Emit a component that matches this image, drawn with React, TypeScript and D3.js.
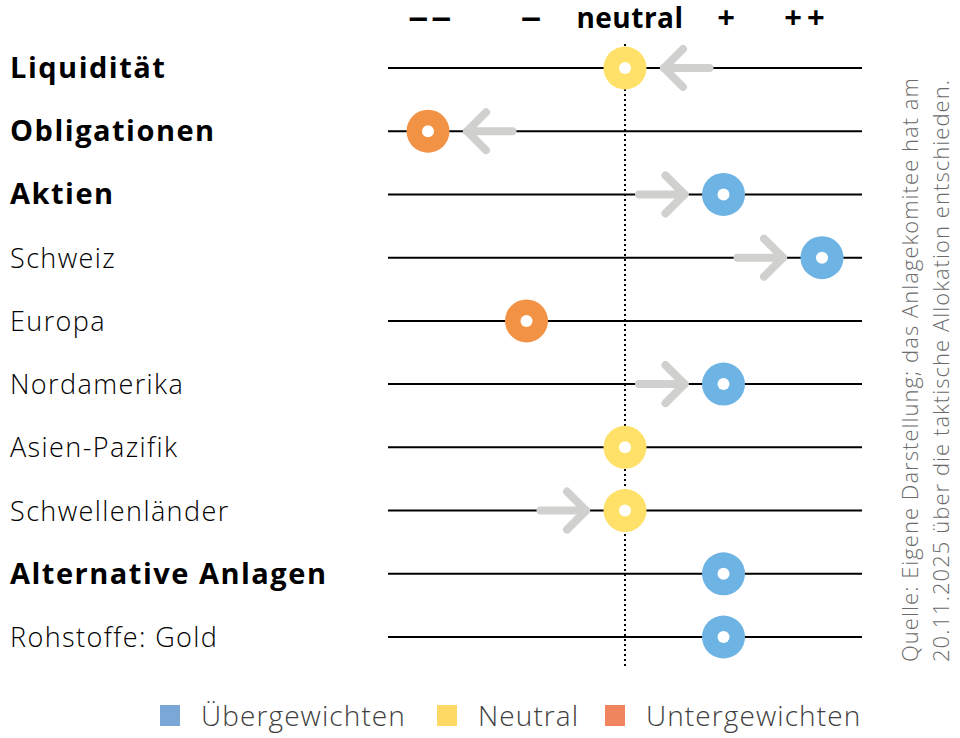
import React from "react";
import * as d3 from "d3";

const categories = [
  "Liquidität",
  "Obligationen",
  "Aktien",
  "Schweiz",
  "Europa",
  "Nordamerika",
  "Asien-Pazifik",
  "Schwellenländer",
  "Alternative Anlagen",
  "Rohstoffe: Gold",
];
const boldRows = [true, true, true, false, false, false, false, false, true, false];
const currentValues = [0, -2, 1, 2, -1, 1, 0, 0, 1, 1];
const previousValues: (number | null)[] = [1, -1, 0, 1, null, 0, null, -1, null, null];
const tickValues = [-2, -1, 0, 1, 2];
const tickLabels = ["––", "–", "neutral", "+", "++"];
const legendLabels = ["Übergewichten", "Neutral", "Untergewichten"];
const legendColors = ["#7BA7D7", "#FFD966", "#F0845E"];
const sourceLines = [
  "Quelle: Eigene Darstellung; das Anlagekomitee hat am",
  "20.11.2025 über die taktische Allokation entschieden.",
];

const W = 960;
const H = 738;
const FONT = "'Open Sans', 'Noto Sans', sans-serif";

export default function App() {
  const x = d3.scaleLinear().domain([-2, 2]).range([428, 822]);
  const y = d3.scalePoint<string>().domain(categories).range([68, 637]);
  const lineX0 = 388;
  const lineX1 = 862;
  const markerColor = (v: number) => (v > 0 ? "#6DB3E3" : v < 0 ? "#F29245" : "#FFE169");
  const tickX = [431, 531, 630, 726, 807];
  const tickSpacing = [2, 0, 0.5, 0, 5];
  const tickSize = [33, 33, 28, 31, 31];
  const tickLen: (number | undefined)[] = [46, 21, undefined, undefined, undefined];

  return (
    <div style={{ position: "absolute", left: 0, top: 0 }}>
      <svg width={W} height={H} style={{ display: "block", fontFamily: FONT }}>
        <rect width={W} height={H} fill="#fff" />
        {/* header labels */}
        {tickValues.map((t, i) => (
          <text
            key={t}
            x={tickX[i]}
            y={28}
            textAnchor="middle"
            fontSize={tickSize[i]}
            fontWeight={700}
            letterSpacing={tickSpacing[i]}
            textLength={tickLen[i]}
            lengthAdjust={tickLen[i] ? "spacingAndGlyphs" : undefined}
            fill="#000"
          >
            {tickLabels[i]}
          </text>
        ))}
        {/* row lines */}
        {categories.map((c) => (
          <line key={c} x1={lineX0} x2={lineX1} y1={y(c)} y2={y(c)} stroke="#000" strokeWidth={2} />
        ))}
        {/* neutral dotted line */}
        <line
          x1={x(0)}
          x2={x(0)}
          y1={44}
          y2={668}
          stroke="#000"
          strokeWidth={2}
          strokeDasharray="2 3"
        />
        {/* category labels */}
        {categories.map((c, i) => (
          <text
            key={c}
            x={10}
            y={(y(c) as number) + 10}
            fontSize={boldRows[i] ? 29 : 27}
            fontWeight={boldRows[i] ? 700 : 350}
            letterSpacing={boldRows[i] ? 1.5 : 1.4}
            fill="#000"
          >
            {c}
          </text>
        ))}
        {/* arrows */}
        {categories.map((c, i) => {
          const p = previousValues[i];
          if (p === null) return null;
          const cur = currentValues[i];
          const dir = Math.sign(cur - p);
          const tail = x(p) + dir * 14;
          const tip = x(cur) - dir * 39;
          const yy = y(c) as number;
          const hx = tip - dir * 19;
          return (
            <g key={c} stroke="#D0D0CE" strokeWidth={8} strokeLinecap="round" fill="none">
              <line x1={tail} x2={tip} y1={yy} y2={yy} />
              <polyline points={`${hx},${yy - 19} ${tip},${yy} ${hx},${yy + 19}`} strokeLinejoin="round" />
            </g>
          );
        })}
        {/* markers */}
        {categories.map((c, i) => {
          const cx = x(currentValues[i]);
          const cy = y(c) as number;
          return (
            <g key={c}>
              <circle cx={cx} cy={cy} r={21.5} fill={markerColor(currentValues[i])} />
              <circle cx={cx} cy={cy} r={6} fill="#fff" />
            </g>
          );
        })}
        {/* source text */}
        {sourceLines.map((s, i) => (
          <text
            key={i}
            transform={`translate(${918 + i * 31},662) rotate(-90)`}
            fontSize={22}
            fontWeight={300}
            textLength={i === 0 ? 584 : 582}
            lengthAdjust="spacing"
            fill="#6B6B6B"
          >
            {s}
          </text>
        ))}
        {/* legend */}
        {legendLabels.map((l, i) => {
          const lx = [160, 437, 605][i];
          return (
            <g key={l}>
              <rect x={lx} y={705} width={20} height={21} fill={legendColors[i]} />
              <text x={lx + 41} y={726} fontSize={28} fontWeight={350} letterSpacing={1.1} fill="#404040">
                {l}
              </text>
            </g>
          );
        })}
      </svg>
    </div>
  );
}
